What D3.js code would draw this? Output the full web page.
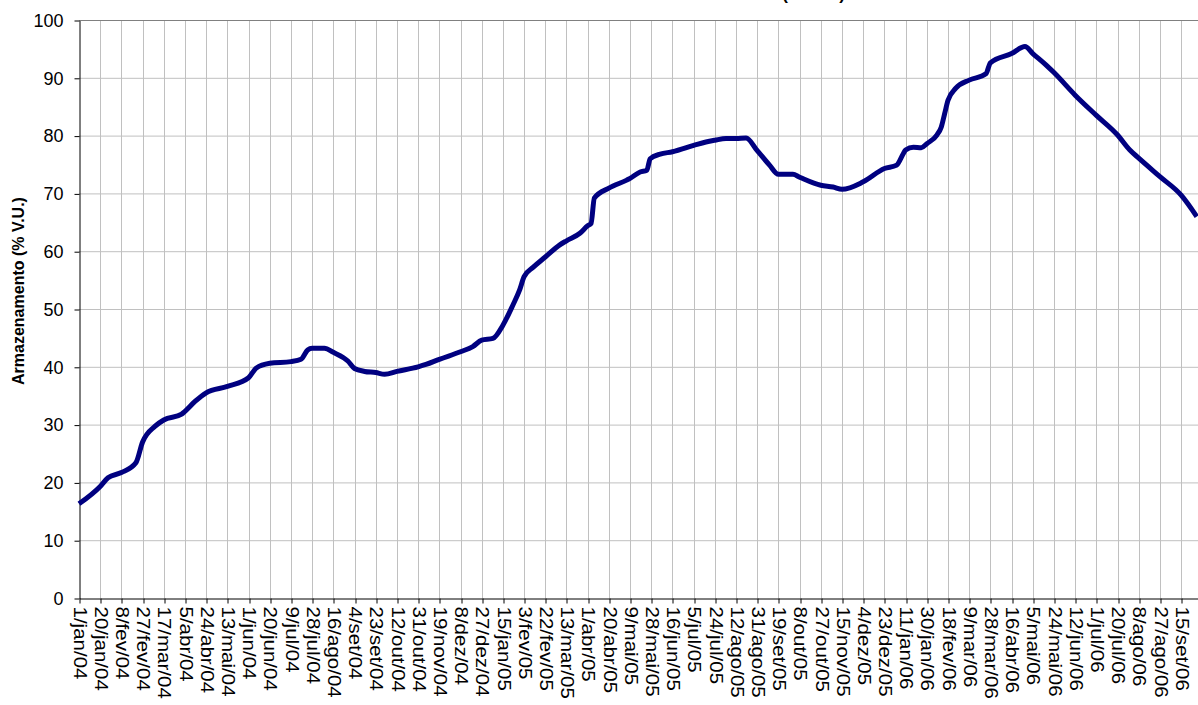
<!DOCTYPE html>
<html>
<head>
<meta charset="utf-8">
<script src="https://cdn.jsdelivr.net/npm/d3@7"></script>
<style>
  body { margin: 0; background: #fff; }
  svg { display: block; font-family: Arial, "Liberation Sans", sans-serif; }
</style>
</head>
<body>
<div id="wrapper"></div>
<script>
// titulo e eixos
const chartTitle = "ARMAZENAMENTO DO RESERVATÓRIO (% V.U.)";
const yTitle = "Armazenamento (% V.U.)";
const yTicks = [0, 10, 20, 30, 40, 50, 60, 70, 80, 90, 100];
const monthNames = ["jan", "fev", "mar", "abr", "mai", "jun", "jul", "ago", "set", "out", "nov", "dez"];

const tickLabels = [
    "1/jan/04", "20/jan/04", "8/fev/04", "27/fev/04", "17/mar/04", "5/abr/04", "24/abr/04",
    "13/mai/04", "1/jun/04", "20/jun/04", "9/jul/04", "28/jul/04", "16/ago/04", "4/set/04",
    "23/set/04", "12/out/04", "31/out/04", "19/nov/04", "8/dez/04", "27/dez/04", "15/jan/05",
    "3/fev/05", "22/fev/05", "13/mar/05", "1/abr/05", "20/abr/05", "9/mai/05", "28/mai/05",
    "16/jun/05", "5/jul/05", "24/jul/05", "12/ago/05", "31/ago/05", "19/set/05", "8/out/05",
    "27/out/05", "15/nov/05", "4/dez/05", "23/dez/05", "11/jan/06", "30/jan/06", "18/fev/06",
    "9/mar/06", "28/mar/06", "16/abr/06", "5/mai/06", "24/mai/06", "12/jun/06", "1/jul/06",
    "20/jul/06", "8/ago/06", "27/ago/06", "15/set/06"
];

// serie
const dates = [
    "2004-01-01", "2004-01-20", "2004-01-27", "2004-02-08", "2004-02-21", "2004-02-27",
    "2004-03-09", "2004-03-17", "2004-04-02", "2004-04-05", "2004-04-14", "2004-04-24",
    "2004-05-13", "2004-06-01", "2004-06-08", "2004-06-20", "2004-07-09", "2004-07-18",
    "2004-07-24", "2004-07-28", "2004-08-08", "2004-08-16", "2004-08-29", "2004-09-04",
    "2004-09-13", "2004-09-23", "2004-10-01", "2004-10-12", "2004-10-31", "2004-11-07",
    "2004-11-19", "2004-12-08", "2004-12-19", "2004-12-27", "2005-01-06", "2005-01-15",
    "2005-01-24", "2005-01-30", "2005-02-03", "2005-02-11", "2005-02-22", "2005-03-07",
    "2005-03-13", "2005-03-25", "2005-04-01", "2005-04-04", "2005-04-07", "2005-04-20",
    "2005-05-06", "2005-05-09", "2005-05-18", "2005-05-24", "2005-05-27", "2005-06-05",
    "2005-06-16", "2005-07-05", "2005-07-16", "2005-07-24", "2005-08-03", "2005-08-12",
    "2005-08-21", "2005-08-31", "2005-09-11", "2005-09-19", "2005-10-02", "2005-10-08",
    "2005-10-27", "2005-11-07", "2005-11-15", "2005-12-04", "2005-12-23", "2006-01-03",
    "2006-01-09", "2006-01-11", "2006-01-18", "2006-01-25", "2006-01-30", "2006-02-08",
    "2006-02-12", "2006-02-15", "2006-02-18", "2006-02-25", "2006-03-09", "2006-03-24",
    "2006-03-28", "2006-04-16", "2006-04-28", "2006-05-05", "2006-05-17", "2006-05-24",
    "2006-06-12", "2006-07-01", "2006-07-20", "2006-07-31", "2006-08-08", "2006-08-27",
    "2006-09-15", "2006-09-29"
];
const values = [
    16.3, 19.3, 20.8, 21.7, 23.4, 27.0,
    29.7, 30.8, 31.8, 32.3, 34.0, 35.5,
    36.6, 38.1, 39.8, 40.6, 40.9, 41.3,
    42.9, 43.2, 43.2, 42.5, 41.0, 39.7,
    39.2, 39.0, 38.7, 39.2, 40.0, 40.4,
    41.3, 42.6, 43.5, 44.6, 44.9, 47.2,
    50.7, 53.3, 55.6, 57.2, 59.0, 61.1,
    61.8, 63.1, 64.4, 64.8, 69.2, 70.9,
    72.3, 72.6, 73.7, 74.0, 76.0, 76.8,
    77.2, 78.3, 78.9, 79.2, 79.5, 79.5,
    79.6, 77.4, 74.9, 73.3, 73.3, 72.8,
    71.4, 71.1, 70.7, 72.0, 74.3, 74.9,
    76.9, 77.5, 78.0, 77.9, 78.6, 80.1,
    81.5, 83.8, 86.1, 88.2, 89.6, 90.7,
    92.6, 94.2, 95.4, 94.2, 92.2, 90.9,
    87.0, 83.5, 80.1, 77.5, 76.1, 72.9,
    69.7, 66.0
];

async function buildPlot() {
    const dateParser = d3.timeParse("%Y-%m-%d");
    const labelParser = s => {
        const [d, m, y] = s.split("/");
        return new Date(2000 + (+y), monthNames.indexOf(m), +d);
    };
    const data = dates.map((d, i) => ({ date: dateParser(d), value: values[i] }));
    const tickDates = tickLabels.map(labelParser);

    const xAccessor = d => d.date;
    const yAccessor = d => d.value;

    var dimension = {
        width: 1198,
        height: 705,
        margin: { top: 20, left: 79, bottom: 107, right: -1 }
    };
    dimension.boundedWidth = dimension.width - dimension.margin.left - dimension.margin.right;
    dimension.boundedHeight = dimension.height - dimension.margin.top - dimension.margin.bottom;

    const svg = d3.select("#wrapper").append("svg")
        .attr("width", dimension.width)
        .attr("height", dimension.height);

    const bounded = svg.append("g")
        .attr("transform", `translate(${dimension.margin.left},${dimension.margin.top})`);

    const xScaler = d3.scaleTime()
        .domain([new Date(2004, 0, 1), new Date(2006, 9, 1)])
        .range([0, dimension.boundedWidth]);

    const yScaler = d3.scaleLinear()
        .domain([0, 100])
        .range([dimension.boundedHeight, 0]);

    // grade
    bounded.append("g")
        .selectAll("line")
        .data(yTicks.filter(v => v > 0 && v < 100))
        .join("line")
        .attr("x1", 0).attr("x2", dimension.boundedWidth)
        .attr("y1", d => yScaler(d) + 0.5).attr("y2", d => yScaler(d) + 0.5)
        .attr("stroke", "#c0c0c0");

    bounded.append("g")
        .selectAll("line")
        .data(tickDates.slice(1))
        .join("line")
        .attr("x1", d => Math.round(xScaler(d)) + 0.5).attr("x2", d => Math.round(xScaler(d)) + 0.5)
        .attr("y1", 0).attr("y2", dimension.boundedHeight)
        .attr("stroke", "#c0c0c0");

    // borda superior
    bounded.append("line")
        .attr("x1", 0).attr("x2", dimension.boundedWidth)
        .attr("y1", 0.5).attr("y2", 0.5)
        .attr("stroke", "#808080");

    // eixos
    const yAxis = bounded.append("g")
        .attr("transform", "translate(0.5,0.5)")
        .call(d3.axisLeft(yScaler).tickValues(yTicks).tickSize(5).tickSizeOuter(0).tickPadding(11));
    yAxis.select(".domain").attr("stroke", "#000");
    yAxis.selectAll("text").style("font-size", "18px").attr("fill", "#000");

    const xAxis = bounded.append("g")
        .attr("transform", `translate(0.5,${dimension.boundedHeight + 0.5})`)
        .call(d3.axisBottom(xScaler).tickValues(tickDates).tickFormat((d, i) => tickLabels[i])
            .tickSize(5).tickSizeOuter(0));
    xAxis.selectAll(".tick line").attr("transform", (d) => `translate(${Math.round(xScaler(d)) - xScaler(d)},0)`);
    xAxis.selectAll("text")
        .style("font-size", "18px")
        .style("text-anchor", "start")
        .attr("fill", "#000")
        .attr("transform", "rotate(90) scale(1.14,1)")
        .attr("x", 7)
        .attr("y", 0)
        .attr("dy", "0.35em");

    // linha
    const lineGenerator = d3.line()
        .x(d => xScaler(xAccessor(d)))
        .y(d => yScaler(yAccessor(d)))
        .curve(d3.curveMonotoneX);

    bounded.append("path")
        .attr("fill", "none")
        .attr("stroke", "#000080")
        .attr("stroke-width", 5)
        .attr("stroke-linejoin", "round")
        .attr("d", lineGenerator(data));

    // titulos
    svg.append("text")
        .attr("x", 648)
        .attr("y", 0)
        .attr("text-anchor", "middle")
        .style("font-size", "17px")
        .style("font-weight", "bold")
        .text(chartTitle);

    svg.append("text")
        .attr("transform", "translate(24,291) rotate(-90)")
        .attr("text-anchor", "middle")
        .style("font-size", "16px")
        .style("font-weight", "bold")
        .text(yTitle);
}

buildPlot()
</script>
</body>
</html>
